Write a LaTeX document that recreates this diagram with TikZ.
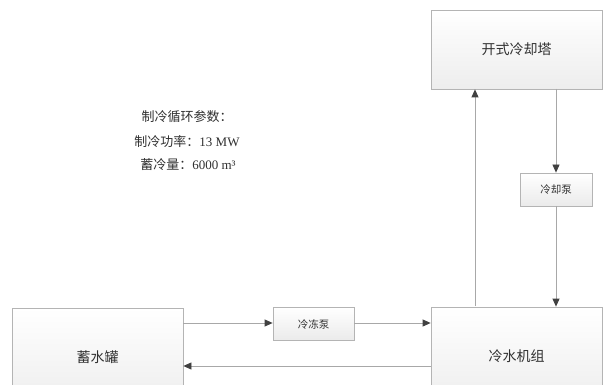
\documentclass[tikz,border=0pt]{standalone}
\usepackage{fontspec}
\setmainfont{Liberation Serif}
\newfontfamily\cjk{Noto Sans CJK SC}
\usetikzlibrary{arrows.meta}
\definecolor{linegray}{HTML}{A8A8A8}
\definecolor{boxline}{HTML}{B4B4B4}
\definecolor{headgray}{HTML}{404040}
\definecolor{txt}{HTML}{303030}
\tikzset{
  bigbox/.style={draw=boxline, line width=0.8pt, top color=white, bottom color=black!7,
    minimum width=171pt, minimum height=#1, inner sep=0pt, font=\cjk\fontsize{14}{16}\selectfont, text=txt},
  smallbox/.style={draw=boxline, line width=0.8pt, top color=white, bottom color=black!8,
    minimum width=#1, minimum height=33pt, inner sep=0pt, font=\cjk\fontsize{10.5}{12}\selectfont, text=txt},
  flow/.style={draw=linegray, line width=0.8pt, -{Triangle[length=8pt,width=7pt,color=headgray]}},
  plabel/.style={font=\fontsize{13}{15}\selectfont, text=txt, inner sep=0pt}
}
\begin{document}
\begin{tikzpicture}[x=1pt,y=-1pt]
\clip (0,0) rectangle (603,385);
\fill[white] (0,0) rectangle (603,385);
\node[bigbox=79pt] (tower) at (516.5,49.5) {开式冷却塔};
\node[smallbox=72pt] (coolpump) at (556,189.5) {冷却泵};
\node[bigbox=98pt] (chiller) at (516.5,356) {冷水机组};
\node[bigbox=98pt] (tank) at (97.5,357) {蓄水罐};
\node[smallbox=81pt] (frzpump) at (313.5,324) {冷冻泵};
\coordinate (upS) at (475,306);
\coordinate (rtS) at (556,89);
\draw[flow] (upS) -- (upS |- tower.south);
\draw[flow] (rtS) -- (coolpump.north -| rtS);
\draw[flow] (coolpump.south) -- (chiller.north -| coolpump.south);
\coordinate (a1) at (183,323);
\draw[flow] (a1 -| tank.east) -- (a1 -| frzpump.west);
\draw[flow] (a1 -| frzpump.east) -- (a1 -| chiller.west);
\coordinate (a2) at (183,366);
\draw[flow] (a2 -| chiller.west) -- (a2 -| tank.east);
\node[plabel] (p1) at (187,117) {\cjk 制冷循环参数：};
\node[plabel] (p2) at (187,142) {{\cjk 制冷功率：}13 MW};
\node[plabel] (p3) at (188,165) {{\cjk 蓄冷量：}6000 m³};
\end{tikzpicture}
\end{document}
